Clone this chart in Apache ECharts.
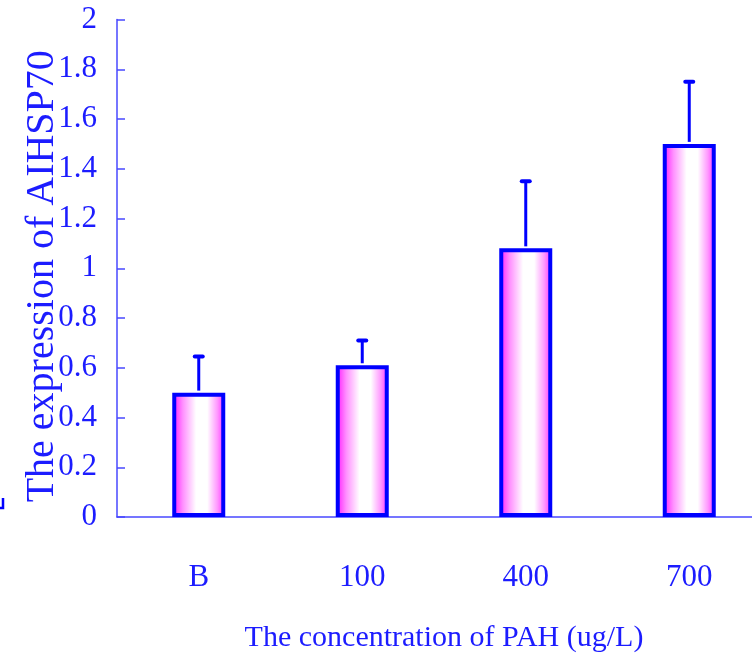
<!DOCTYPE html>
<html>
<head>
<meta charset="utf-8">
<script src="https://cdn.jsdelivr.net/npm/echarts@6/dist/echarts.min.js"></script>
<style>
  html, body { margin: 0; padding: 0; background: #fff; overflow: hidden; }
  /* the value axis runs off the right edge, so the canvas is wider than the page */
  #chart { width: 771px; height: 658px; }
</style>
</head>
<body>
<div id="chart"></div>
<script>
// PAH concentration groups and AIHSP70 expression (mean and upper error)
const categories = ['B', '100', '400', '700'];
const meanValues = [0.50, 0.61, 1.08, 1.50];
const errorValues = [0.145, 0.10, 0.27, 0.25];
const yTicks = [0, 0.2, 0.4, 0.6, 0.8, 1, 1.2, 1.4, 1.6, 1.8, 2];

const BLUE = '#0000ff';
const AXIS_BLUE = '#4848ff';
const TEXT_BLUE = '#1c1cff';
const FONT = '"Liberation Serif", "DejaVu Serif", serif';

const chart = echarts.init(document.getElementById('chart'), null, { renderer: 'canvas' });

const barFill = new echarts.graphic.LinearGradient(0, 0, 1, 0, [
  { offset: 0, color: '#ff10ff' },
  { offset: 0.2, color: '#ff90ff' },
  { offset: 0.45, color: '#ffffff' },
  { offset: 0.66, color: '#ffffff' },
  { offset: 0.85, color: '#ff98ff' },
  { offset: 1, color: '#ff28ff' }
]);

chart.setOption({
  backgroundColor: '#ffffff',
  animation: false,
  grid: { left: 117, right: 0, top: 19.5, bottom: 140 },
  xAxis: {
    type: 'category',
    data: categories,
    name: 'The concentration of PAH (ug/L)',
    nameLocation: 'middle',
    nameGap: 106,
    nameMoveOverlap: false,
    nameTextStyle: { color: TEXT_BLUE, fontFamily: FONT, fontSize: 30 },
    axisLine: { lineStyle: { color: AXIS_BLUE, width: 1.5 } },
    axisTick: { inside: true, length: 13, alignWithLabel: false, lineStyle: { color: AXIS_BLUE, width: 1.5 } },
    axisLabel: { color: TEXT_BLUE, fontFamily: FONT, fontSize: 31, margin: 45 }
  },
  yAxis: {
    type: 'value',
    min: 0,
    max: 2,
    interval: 0.2,
    name: 'The expression of AIHSP70',
    nameLocation: 'middle',
    nameGap: 55,
    nameMoveOverlap: false,
    nameTextStyle: { color: TEXT_BLUE, fontFamily: FONT, fontSize: 40, padding: [0, 16, 0, 0] },
    axisLine: { show: true, lineStyle: { color: AXIS_BLUE, width: 1.5 } },
    axisTick: { show: true, inside: true, length: 8, lineStyle: { color: AXIS_BLUE, width: 1.5 } },
    splitLine: { show: false },
    axisLabel: {
      color: TEXT_BLUE, fontFamily: FONT, fontSize: 31, margin: 20,
      padding: [7, 0, 0, 0],
      formatter: v => {
        const t = yTicks.find(k => Math.abs(k - v) < 1e-9);
        return t === undefined ? '' : String(t);
      }
    }
  },
  series: [
    {
      type: 'bar',
      data: meanValues,
      barWidth: 53,
      itemStyle: { color: barFill, borderColor: BLUE, borderWidth: 4 },
      z: 2
    },
    {
      type: 'custom',
      z: 3,
      data: meanValues.map((m, i) => [i, m, m + errorValues[i]]),
      renderItem: (params, api) => {
        const base = api.coord([api.value(0), api.value(1)]);
        const top = api.coord([api.value(0), api.value(2)]);
        return {
          type: 'group',
          children: [
            {
              type: 'line',
              shape: { x1: base[0], y1: base[1] - 2, x2: top[0], y2: top[1] },
              style: { stroke: BLUE, lineWidth: 3 }
            },
            {
              type: 'line',
              shape: { x1: top[0] - 4, y1: top[1], x2: top[0] + 4, y2: top[1] },
              style: { stroke: BLUE, lineWidth: 4, lineCap: 'round' }
            }
          ]
        };
      }
    }
  ],
  graphic: [
    {
      type: 'polyline',
      shape: { points: [[3, 498], [3, 508], [0, 508]] },
      style: { stroke: BLUE, lineWidth: 2.5, fill: null }
    }
  ]
});
</script>
</body>
</html>
